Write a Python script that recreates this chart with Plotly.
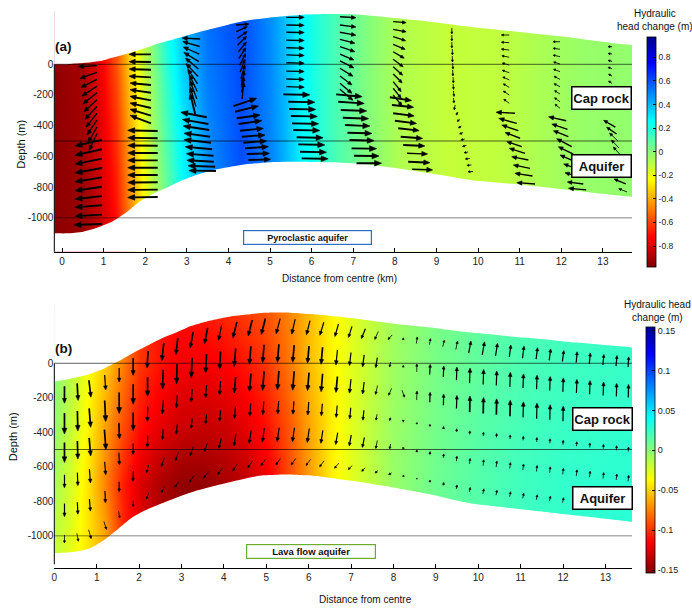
import math
import plotly.graph_objects as go

W, H = 692, 608
FONT = "Liberation Sans, Arial, sans-serif"

# ======================= DATA: panel (a) pyroclastic aquifer =======================
A_SURF_X = [-0.185, 0.12, 0.51, 0.91, 1.23, 1.55, 1.87, 2.2, 2.55, 2.9, 3.3, 3.7, 4.3, 5.0,
            5.7, 6.44, 7.24, 8.05, 8.85, 9.8, 11.0, 12.3, 13.70]
A_TOP = [0, 1, 8, 21, 45, 68, 95, 125, 153, 180, 210, 238, 278, 305, 322, 328, 322, 300, 278,
         245, 210, 172, 126]
A_BOT = [-1102, -1102, -1091, -1059, -1022, -965, -895, -842, -800, -755, -715, -686, -656,
         -638, -635, -639, -650, -678, -711, -754, -784, -823, -863]

# hydraulic head change (m) sampled along distance, at the base and top of the section
A_HX = [-0.2, 0.5, 0.9, 1.3, 1.65, 1.9, 2.15, 2.5, 2.9, 3.5, 4.3, 5.0, 5.3, 5.7, 6.2, 6.7, 7.4,
        8.1, 9.3, 10.5, 11.5, 12.5, 13.75]
A_HZ = [-1250, 400]
A_HEAD_BASE = [-0.95, -0.93, -0.86, -0.73, -0.5, -0.32, -0.17, 0.0, 0.2, 0.43, 0.6, 0.52, 0.44,
               0.3, 0.19, 0.1, 0.0, -0.08, -0.12, -0.11, -0.07, -0.03, -0.02]
A_HEAD_TOP = [-0.95, -0.88, -0.74, -0.52, -0.25, -0.1, 0.03, 0.24, 0.4, 0.55, 0.62, 0.48, 0.4,
              0.28, 0.18, 0.1, 0.0, -0.08, -0.12, -0.11, -0.07, -0.03, -0.02]

# flow arrows (tail position in km / m, vector components in display units)
A_QX = [
    [0.84] * 11, [0.96] * 10, [2.14] * 10, [2.3] * 10,
    [3.32, 3.31, 3.30, 3.29, 3.28, 3.27, 3.26, 3.25, 3.24, 3.22, 3.2],
    [3.48, 3.52, 3.54, 3.56, 3.58, 3.61, 3.64, 3.65, 3.68, 3.7],
    [4.18, 4.19, 4.21, 4.22, 4.24, 4.25, 4.27, 4.28, 4.3, 4.31, 4.32, 4.33],
    [4.12, 4.16, 4.2, 4.24, 4.28, 4.32, 4.36, 4.4, 4.44, 4.48],
    [5.39] * 10,
    [5.32, 5.44, 5.46, 5.5, 5.53, 5.56, 5.64, 5.68, 5.72, 5.76],
    [6.68] * 11,
    [6.59, 6.64, 6.7, 6.75, 6.8, 6.86, 6.91, 6.96, 7.02, 7.08],
    [7.96] * 11,
    [7.88, 7.93, 7.96, 8.0, 8.08, 8.14, 8.2, 8.29, 8.32, 8.41],
    [9.37, 9.37, 9.37, 9.38, 9.38, 9.39, 9.39, 9.4, 9.4, 9.41, 9.41, 9.45],
    [9.52, 9.56, 9.6, 9.64, 9.68, 9.72, 9.76, 9.8, 9.84, 9.88],
    [10.75] * 10,
    [10.89, 10.93, 10.97, 11.01, 11.05, 11.13, 11.21, 11.25, 11.31, 11.37],
    [11.97] * 10,
    [12.12, 12.15, 12.17, 12.25, 12.29, 12.33, 12.41, 12.45, 12.53, 12.6],
    [13.22] * 8,
    [13.3, 13.33, 13.36, 13.39, 13.42, 13.45, 13.48, 13.51, 13.55, 13.58],
]
A_QZ = [
    [-9, -53, -98, -142, -186, -231, -275, -319, -364, -408, -452],
    [-493, -554, -615, -676, -737, -798, -859, -919, -980, -1041],
    [65, 15, -35, -85, -135, -185, -235, -285, -335, -385],
    [-435, -482, -531, -578, -626, -674, -722, -769, -817, -865],
    [165, 116, 67, 18, -31, -80, -128, -177, -226, -275, -324],
    [-345, -389, -428, -472, -511, -554, -596, -635, -668, -696],
    [256, 213, 168, 124, 81, 37, -7, -51, -95, -138, -183, -226],
    [-272, -309, -352, -389, -433, -472, -511, -548, -585, -624],
    [306, 256, 209, 158, 108, 61, 10, -44, -96, -146],
    [-196, -244, -291, -337, -385, -428, -476, -522, -570, -613],
    [310, 256, 209, 163, 115, 67, 22, -26, -76, -124, -163],
    [-196, -244, -298, -348, -396, -446, -493, -548, -596, -645],
    [278, 228, 180, 130, 82, 33, -16, -63, -113, -156, -200],
    [-215, -265, -319, -368, -417, -472, -526, -580, -635, -684],
    [237, 191, 145, 100, 54, 8, -37, -83, -128, -174, -220, -265],
    [-311, -357, -402, -445, -487, -529, -572, -614, -656, -699],
    [191, 141, 93, 46, -5, -55, -102, -150, -200, -254],
    [-319, -385, -433, -482, -537, -580, -624, -678, -728, -780],
    [147, 98, 50, 2, -48, -98, -146, -194, -244, -287],
    [-368, -424, -472, -537, -585, -635, -684, -737, -780, -819],
    [115, 67, 19, -29, -77, -125, -174, -220],
    [-409, -454, -500, -546, -591, -637, -682, -728, -780, -832],
]
A_QU = [
    [-19, -17, -16, -15, -14, -13, -12, -11, -10, -9, -8],
    [-27, -27, -27, -27, -27, -27, -27, -27, -27, -28],
    [-22, -22, -22, -22, -21, -21, -21, -21, -21, -21],
    [-30] * 10,
    [-18, -17, -16, -15, -13, -12, -10, -8, -7, -6, -5],
    [-26, -26, -26, -26, -27, -27, -27, -27, -27, -27],
    [13, 11, 10, 9, 8, 7, 6, 5, 4, 3, 2, 1.5],
    [23.3, 23.3, 23.3, 23.3, 23.3, 23.3, 23.3, 23.3, 22.7, 22.3],
    [18] * 10,
    [26.5] * 10,
    [16, 16, 16, 15, 15, 14, 14, 13, 12, 12, 13],
    [26, 26, 26, 25.7, 25, 24.5, 24.7, 25, 25, 25],
    [13, 13, 12.5, 12, 11, 10, 9.5, 9, 8, 8, 9],
    [21.7, 21.7, 21, 21.7, 21, 22, 21.7, 20.7, 21.7, 20.7],
    [0, 0, 0, 0.2, 0.2, 0.3, 0.3, 0.3, 0.5, 0.5, 0.5, -1],
    [-2, -2.5, -3, -3.5, -4, -4, -4, -4.5, -4.5, -5],
    [-8, -8, -8, -7.5, -7, -7, -6.5, -6, -6, -5.5],
    [-19, -18, -16.7, -15, -15, -15.7, -16.7, -16.7, -17.7, -18.3],
    [-7, -7, -7, -6.5, -6.5, -6, -6, -5.5, -5.5, -5],
    [-17.7, -15.7, -15, -15, -15, -15, -14.7, -15, -16, -17.7],
    [-4, -4, -4, -4, -3.5, -3.5, -3, -3],
    [-11.7, -10, -8.3, -7.7, -7, -7, -7.7, -9, -11.7, -8.3],
]
A_QV = [
    [-1, -6, -8, -10, -11, -12, -13, -14, -15, -16, -17],
    [-6, -6, -5.5, -5, -4.5, -4, -3, -2, -1.5, -1],
    [0, 0.3, 0.6, 1.2, 2, 3, 4, 5, 6.5, 8],
    [0.7, 0.5, 0.3, 0, 0, 0, 0, -0.3, -0.3, -0.5],
    [1, 5, 7, 9, 11, 13, 15, 17, 19, 20, 21],
    [5, 4.5, 4, 3.5, 3, 2.5, 2, 1.5, 1, 0.5],
    [1, 5, 7, 9, 10, 11, 12, 13, 14, 15, 16, 17],
    [7.7, 5.7, 3.3, 3.3, 2.3, 1.7, 1.7, 1.7, 0.7, 0.7],
    [0, -0.3, -0.3, -0.5, -0.5, -0.5, -0.5, -0.5, -0.5, -0.5],
    [-0.5] * 10,
    [-1, -2, -3, -4, -5, -6, -7, -8, -9, -10, -11],
    [-2.3, -1.7, -1, -1, -1, -0.7, -0.7, -0.3, -0.3, 0],
    [-1, -2.5, -4, -5, -6.5, -7.5, -8.5, -9, -10, -10, -11],
    [-3.3, -2.3, -2.7, -2.7, -2.3, -1.7, -1, -0.7, -1, -0.7],
    [-6, -6, -6, -6, -6, -6, -6, -6, -5.5, -5.5, -5, -5],
    [-3, -2.5, -2, -1.5, -1, -1, -0.7, -0.5, -0.5, -0.3],
    [0, 0.5, 1, 1.5, 2, 2.5, 3, 3.5, 4, 4],
    [1, 5, 5.7, 5.7, 5, 5, 3.3, 3.3, 2.7, 1.3],
    [0, 1, 1.5, 2, 2.5, 3, 3, 3.5, 4, 4],
    [4, 5.3, 6, 8, 7.3, 6.7, 5.3, 4.7, 2, 1.7],
    [0, 0.5, 1, 1.5, 2, 2.5, 3, 3.5],
    [6.7, 6.7, 8, 8, 8, 8, 7, 6, 5, 3.3],
]

# ======================= DATA: panel (b) lava flow aquifer =======================
B_SURF_X = [0.0, 0.24, 0.55, 0.84, 1.20, 1.53, 1.86, 2.20, 2.56, 2.89, 3.24, 3.58, 3.91, 4.26,
            4.62, 4.93, 5.28, 5.64, 5.99, 6.31, 6.66, 6.98, 7.29, 7.60, 7.92, 8.23, 8.55, 8.86,
            9.18, 9.49, 9.80, 10.12, 10.43, 10.75, 11.06, 11.38, 11.69, 12.0, 12.32, 12.63,
            12.95, 13.26, 13.54, 13.625]
B_TOP = [-105, -97, -80, -62, -27, 14, 60, 103, 148, 180, 217, 241, 259, 275, 285, 293, 295, 292,
         286, 280, 271, 262, 252, 242, 232, 223, 215, 208, 198, 188, 178, 171, 164, 156, 149, 142,
         135, 127, 120, 113, 106, 100, 94, 92]
B_BOT = [-1100, -1099, -1090, -1072, -1020, -955, -890, -846, -810, -778, -748, -724, -703, -682,
         -662, -650, -646, -646, -650, -658, -669, -680, -692, -705, -717, -730, -745, -760, -778,
         -796, -812, -822, -830, -839, -848, -857, -865, -874, -883, -891, -900, -909, -917, -919]

B_HX = [0, 0.4, 0.8, 1.2, 1.6, 2.0, 2.5, 3.0, 3.5, 4.0, 4.5, 5.0, 5.5, 6.0, 6.5, 7.0, 7.5, 8.0,
        9.0, 10.0, 11.0, 12.0, 13.7]
B_HZ = [-1150, -700, -350, 0, 350]
B_HEAD_M1150 = [-0.02, -0.03, -0.045, -0.06, -0.1, -0.125, -0.14, -0.148, -0.148, -0.142, -0.135,
                -0.12, -0.095, -0.068, -0.042, -0.028, -0.016, -0.005, 0.008, 0.016, 0.022, 0.026,
                0.029]
B_HEAD_M700 = [-0.01, -0.025, -0.045, -0.075, -0.105, -0.125, -0.14, -0.148, -0.148, -0.142,
               -0.135, -0.12, -0.095, -0.068, -0.042, -0.028, -0.016, -0.005, 0.008, 0.016, 0.022,
               0.026, 0.029]
B_HEAD_M350 = [-0.003, -0.02, -0.04, -0.065, -0.09, -0.11, -0.122, -0.13, -0.132, -0.13, -0.122,
               -0.11, -0.09, -0.065, -0.042, -0.028, -0.016, -0.006, 0.006, 0.014, 0.02, 0.024,
               0.027]
B_HEAD_0 = [0.0, -0.015, -0.035, -0.052, -0.075, -0.098, -0.11, -0.118, -0.118, -0.115, -0.108,
            -0.098, -0.08, -0.058, -0.04, -0.028, -0.017, -0.007, 0.005, 0.012, 0.018, 0.022, 0.025]
B_HEAD_P350 = [0.0, -0.015, -0.035, -0.052, -0.075, -0.098, -0.108, -0.11, -0.105, -0.1, -0.095,
               -0.088, -0.075, -0.058, -0.04, -0.028, -0.018, -0.008, 0.004, 0.012, 0.018, 0.022,
               0.025]

# arrow rows as fractions of layer thickness (from the top), one vector per column
B_ROW_F = [0.085, 0.252, 0.419, 0.586, 0.753, 0.92]
B_U1 = [0, 1, 2, 1, 0, 0, -1, -2, -2, -3, -3, -3, -4, -4, -4, -4, -3.5, -3.5, -4, -3.5, -3.5, -4,
        -3.5, -4, 0, 1, 1, 1.5, 1.7, 2.3, 2.3, 2, 1.5, 1.5, 1.5, 1.5, 1.5, 1, 1, 1, 1, 0.7]
B_V1 = [-17, -17, -17, -15, -14, -17, -17, -18, -17, -16, -16, -15, -16, -16, -16, -15, -15, -14,
        -13, -12.5, -11, -10, -8, -4.5, 2, 6.5, 6, 6.5, 8.5, 12, 13, 12.5, 12, 12, 11.5, 11.5, 11,
        11, 11, 10.5, 10.5, 10]
B_U2 = [0, 0.5, 1.5, 1, 0, 0, 0, -0.5, -0.5, -1, -1, -1, -1.5, -1.5, -1.5, -1.5, -1.5, -1.5, -1.5,
        -1.5, -1.5, -1.5, -1.5, -1, 0, 0, 0.5, 0.5, 0.5, 0.5, 0.5, 0.5, 0.5, 0.5, 0.5, 0.5, 0.5,
        0.5, 0.5, 0.5, 0.3, 0.3]
B_V2 = [-21, -20, -19, -21, -21, -20, -19, -19, -20, -20, -19, -18, -18, -18, -18, -18, -17, -17,
        -17, -15, -13, -12, -10, -5, 2, 8, 10, 11, 13, 15, 15, 14.5, 14.5, 14, 14, 14, 14, 13.5,
        13.5, 13.5, 13, 13]
B_U3 = [0, 0.5, 1.5, 1.5, 0.5, 0, -0.5, -1, -1, -1, -1, -1, -1.5, -1.5, -1.5, -1.5, -1.5, -1.5,
        -1.5, -1.5, -1.5, -1.5, -2, -3, 2.5, 0.3, 0.3, 0.3, 0.5, 0.3, 0.3, 0.3, 0.3, 0.3, 0.3, 0.3,
        0.3, 0.3, 0.3, 0.3, 0.3, 0.3]
B_V3 = [-20, -18, -18, -20, -16, -18, -15, -14, -13, -13, -13, -14, -16, -18, -19, -19, -19, -18,
        -18, -16, -14, -12, -9, -7, -7, 9, 10, 11, 13, 16, 16, 16, 16, 15.5, 15.5, 15, 15, 15,
        14.5, 14.5, 14, 14]
B_U4 = [0, 0.5, 1, 1, 0.5, 0, -0.5, -0.5, -1, -1, -1, -1, -1, -1, -1, -1, -1, -1, -1, -1, -1, -1,
        -1, -1, 0, 0, 0, 0, 0.2, 0.2, 0.2, 0.2, 0.2, 0.2, 0.2, 0.2, 0.2, 0.2, 0.2, 0.2, 0.2, 0.2]
B_V4 = [-13, -13, -14, -13, -12, -11, -12, -10, -10, -10, -10, -11, -12, -13, -13, -13, -13, -13,
        -12, -12, -11, -10, -6, -3, -2, 1.5, 2, 2.5, 3, 3.5, 4, 4, 4, 4, 4.5, 4.5, 4.5, 4.5, 4.5,
        4.5, 4.5, 4.5]
B_U5 = [0, 0.5, 1, 0.5, 0, -0.5, -2, -3, -3, -3, -3, -2.5, -2, -2, -2, -2, -2, -2, -2, -2, -2, -2,
        -1.5, -1, -0.5, 0, 0.3, 0.5, 0.5, 0.7, 0.7, 0.7, 0.7, 0.7, 0.7, 0.7, 0.7, 0.7, 0.7, 0.7,
        0.7, 0.7]
B_V5 = [-13, -12, -12, -12, -10, -10, -8, -9, -9, -9, -9, -10, -12, -13, -14, -14, -14, -14, -13,
        -12, -11, -10, -8, -5, -2, 2, 3, 4, 5, 5.5, 6, 6, 6, 6, 6, 6, 6, 6, 6, 6, 6, 6]
B_U6 = [0, 1.5, 2.5, 2.5, 1, 0, -2, -3, -4, -4.5, -5, -5, -4.5, -4.5, -4.5, -4.5, -4.5, -4.5,
        -4.5, -4.3, -4, -3.5, -3, -3, -1.5, 0, 0.3, 0.5, 0.7, 0.8, 1, 1, 1, 1, 1, 1, 1, 1, 1, 1, 1,
        1]
B_V6 = [-8, -8, -9, -8, -7, -6, -6, -6, -6, -6.5, -6.5, -6.5, -6.7, -6.7, -6.7, -6.5, -6.5, -6,
        -6, -5, -4, -3.5, -2.5, -2, -0.7, 1, 2, 3, 4, 4.5, 5, 5, 5, 5, 5, 5, 5, 5, 5, 5, 5, 5]

LAYER_LINES_Z = [0, -500, -1000]
DEPTH_TICKS = [-1000, -800, -600, -400, -200, 0]
DIST_TICKS = list(range(0, 14))
A_CB_TICKS = [-0.8, -0.6, -0.4, -0.2, 0, 0.2, 0.4, 0.6, 0.8]
B_CB_TICKS = [-0.15, -0.1, -0.05, 0, 0.05, 0.1, 0.15]

# ======================= geometry / style =======================
PLOT_L, PLOT_R = 54.3, 632.0
A_PT, A_PB = 11.0, 251.7
B_PT, B_PB = 305.0, 568.3
A_XR, A_YR = [-0.185, 13.70], [-1221.6, 347.5]
B_XR, B_YR = [0.0, 13.625], [-1189.0, 338.0]
A_SX = (PLOT_R - PLOT_L) / (A_XR[1] - A_XR[0])
A_SZ = (A_PB - A_PT) / (A_YR[1] - A_YR[0])
B_SX = (PLOT_R - PLOT_L) / (B_XR[1] - B_XR[0])
B_SZ = (B_PB - B_PT) / (B_YR[1] - B_YR[0])

JET_R = [[0.0, 'rgb(128,0,0)'], [0.127, 'rgb(255,0,0)'], [0.381, 'rgb(255,255,0)'],
         [0.635, 'rgb(0,255,255)'], [0.889, 'rgb(0,0,255)'], [1.0, 'rgb(0,0,143)']]


def px(x):
    return x / W


def py(y):
    return 1 - y / H


def fmt(v):
    return ('%g' % v)


def arrow_traces(xs, zs, us, vs, sx, sz, centered, xa, ya, wcls):
    groups = {w: ([], []) for _, w in wcls}
    hx_l, hz_l = [], []
    for x, z, u, v in zip(xs, zs, us, vs):
        L = math.hypot(u, v)
        if L < 0.3:
            continue
        if centered:
            tx, tz = x - 0.5 * u / sx, z - 0.5 * v / sz
        else:
            tx, tz = x, z
        hx, hz = tx + u / sx, tz + v / sz
        dx, dy = u / L, v / L          # unit direction in screen space (y up)
        hl = min(max(0.28 * L, 2.0), 7.0)
        hl = min(hl, 0.9 * L)
        hw = 0.36 * hl + 0.3
        w = next(wd for m, wd in wcls if L >= m)
        # shaft ends a little inside the head
        ex = hx - 0.75 * hl * dx / sx
        ez = hz - 0.75 * hl * dy / sz
        gx, gy = groups[w]
        gx += [tx, ex, None]
        gy += [tz, ez, None]
        bx, by = -hl * dx, -hl * dy     # base centre offset (px)
        px1, py1 = bx - hw * dy, by + hw * dx
        px2, py2 = bx + hw * dy, by - hw * dx
        hx_l += [hx, hx + px1 / sx, hx + px2 / sx, hx, None]
        hz_l += [hz, hz + py1 / sz, hz + py2 / sz, hz, None]
    out = []
    for w, (gx, gy) in groups.items():
        if gx:
            out.append(go.Scatter(x=gx, y=gy, mode='lines', line=dict(color='black', width=w),
                                  xaxis=xa, yaxis=ya, hoverinfo='skip', showlegend=False))
    out.append(go.Scatter(x=hx_l, y=hz_l, mode='lines', fill='toself', fillcolor='black',
                          line=dict(color='black', width=0.6), xaxis=xa, yaxis=ya,
                          hoverinfo='skip', showlegend=False))
    return out


def mask_traces(sx_, top, bot, xa, ya):
    x0, x1 = sx_[0] - 1.0, sx_[-1] + 1.0
    up = go.Scatter(x=[x0] + list(sx_) + [x1, x1, x0], y=[top[0]] + list(top) + [top[-1], 5000, 5000],
                    fill='toself', fillcolor='white', mode='lines',
                    line=dict(width=0, shape='spline', smoothing=0.7),
                    xaxis=xa, yaxis=ya, hoverinfo='skip', showlegend=False)
    dn = go.Scatter(x=[x0] + list(sx_) + [x1, x1, x0], y=[bot[0]] + list(bot) + [bot[-1], -5000, -5000],
                    fill='toself', fillcolor='white', mode='lines',
                    line=dict(width=0, shape='spline', smoothing=0.7),
                    xaxis=xa, yaxis=ya, hoverinfo='skip', showlegend=False)
    return [up, dn]


def layer_lines(xr, xa, ya):
    out = []
    styles = {0: ('rgba(0,0,0,0.62)', 1.0), -500: ('rgba(0,0,0,0.62)', 1.0),
              -1000: ('rgba(0,0,0,0.32)', 1.6)}
    for zl in LAYER_LINES_Z:
        c, w = styles[zl]
        out.append(go.Scatter(x=[xr[0], xr[1]], y=[zl, zl], mode='lines', line=dict(color=c, width=w),
                              xaxis=xa, yaxis=ya, hoverinfo='skip', showlegend=False))
    return out


fig = go.Figure()

# ---------------- panel (a) ----------------
fig.add_trace(go.Heatmap(
    x=A_HX, y=A_HZ, z=[A_HEAD_BASE, A_HEAD_TOP], zsmooth='best', colorscale=JET_R,
    zmin=-0.975, zmax=0.975, xaxis='x', yaxis='y', hoverinfo='skip',
    colorbar=dict(x=px(646.7), xanchor='left', xpad=0, y=py(151.7), yanchor='middle', ypad=0,
                  len=230 / H, lenmode='fraction', thickness=9.3, thicknessmode='pixels',
                  outlinewidth=0.8, outlinecolor='black', tickvals=A_CB_TICKS,
                  ticktext=[fmt(t) for t in A_CB_TICKS], ticks='inside', ticklen=3,
                  tickcolor='black', tickfont=dict(family=FONT, size=8.5, color='#222'))))
for t in mask_traces(A_SURF_X, A_TOP, A_BOT, 'x', 'y'):
    fig.add_trace(t)
for t in layer_lines(A_XR, 'x', 'y'):
    fig.add_trace(t)
axs, azs, aus, avs = [], [], [], []
for gx, gz, gu, gv in zip(A_QX, A_QZ, A_QU, A_QV):
    if not (len(gx) == len(gz) == len(gu) == len(gv)):
        raise ValueError('panel a arrow group length mismatch')
    axs += gx; azs += gz; aus += gu; avs += gv
for t in arrow_traces(axs, azs, aus, avs, A_SX, A_SZ, False, 'x', 'y',
                      [(21, 1.9), (12, 1.35), (0, 0.85)]):
    fig.add_trace(t)

# ---------------- panel (b) ----------------
fig.add_trace(go.Heatmap(
    x=B_HX, y=B_HZ, z=[B_HEAD_M1150, B_HEAD_M700, B_HEAD_M350, B_HEAD_0, B_HEAD_P350],
    zsmooth='best', colorscale=JET_R, zmin=-0.154, zmax=0.154, xaxis='x2', yaxis='y2',
    hoverinfo='skip',
    colorbar=dict(x=px(645.7), xanchor='left', xpad=0, y=py(450.3), yanchor='middle', ypad=0,
                  len=246 / H, lenmode='fraction', thickness=9.3, thicknessmode='pixels',
                  outlinewidth=0.8, outlinecolor='black', tickvals=B_CB_TICKS,
                  ticktext=[fmt(t) for t in B_CB_TICKS], ticks='inside', ticklen=3,
                  tickcolor='black', tickfont=dict(family=FONT, size=9, color='#222'))))
for t in mask_traces(B_SURF_X, B_TOP, B_BOT, 'x2', 'y2'):
    fig.add_trace(t)
for t in layer_lines(B_XR, 'x2', 'y2'):
    fig.add_trace(t)
B_U = [B_U1, B_U2, B_U3, B_U4, B_U5, B_U6]
B_V = [B_V1, B_V2, B_V3, B_V4, B_V5, B_V6]
bxs, bzs, bus, bvs = [], [], [], []
ncol = len(B_SURF_X) - 2
for f, ur, vr in zip(B_ROW_F, B_U, B_V):
    if len(ur) != ncol or len(vr) != ncol:
        raise ValueError('panel b arrow row length mismatch')
    for k in range(ncol):
        xk, tk, bk = B_SURF_X[k + 1], B_TOP[k + 1], B_BOT[k + 1]
        bxs.append(xk)
        bzs.append(tk + f * (bk - tk))
        bus.append(ur[k])
        bvs.append(vr[k])
for t in arrow_traces(bxs, bzs, bus, bvs, B_SX, B_SZ, True, 'x2', 'y2',
                      [(16, 1.7), (10, 1.2), (0, 0.8)]):
    fig.add_trace(t)

# ---------------- axes ----------------
tickfont = dict(family=FONT, size=10, color='#222')
xcommon = dict(showgrid=False, zeroline=False, showline=True, linecolor='black', linewidth=1,
               ticks='inside', ticklen=4, tickcolor='black', tickwidth=1, tickvals=DIST_TICKS,
               ticktext=[str(t) for t in DIST_TICKS], tickfont=tickfont,
               domain=[px(PLOT_L), px(PLOT_R)])
ycommon = dict(showgrid=False, zeroline=False, showline=False, ticks='', tickvals=DEPTH_TICKS,
               ticktext=[fmt(t) for t in DEPTH_TICKS], tickfont=tickfont)
fig.update_layout(
    xaxis=dict(**xcommon, range=A_XR, anchor='y'),
    yaxis=dict(**ycommon, range=A_YR, anchor='x', domain=[py(A_PB), py(A_PT)]),
    xaxis2=dict(**xcommon, range=B_XR, anchor='y2'),
    yaxis2=dict(**ycommon, range=B_YR, anchor='x2', domain=[py(B_PB), py(B_PT)]),
)

a_zero_py = A_PT + (A_YR[1] - 0) * A_SZ
b_zero_py = B_PT + (B_YR[1] - 0) * B_SZ
shapes = [
    dict(type='line', xref='paper', yref='paper', x0=px(PLOT_L), x1=px(PLOT_L),
         y0=py(A_PB), y1=py(a_zero_py), line=dict(color='black', width=1)),
    dict(type='line', xref='paper', yref='paper', x0=px(PLOT_L), x1=px(PLOT_L),
         y0=py(B_PB - 4), y1=py(b_zero_py), line=dict(color='black', width=1)),
]


def ann(text, x, y, size=10, bold=False, **kw):
    t = '<b>%s</b>' % text if bold else text
    d = dict(text=t, x=px(x), y=py(y), xref='paper', yref='paper', showarrow=False,
             xanchor='center', yanchor='middle', font=dict(family=FONT, size=size, color='#111'))
    d.update(kw)
    return d


box = dict(bgcolor='white', bordercolor='black', borderwidth=1.5, borderpad=1, width=56,
           height=19, align='center', valign='middle')
annotations = [
    ann('(a)', 63.3, 46, 13.5, True),
    ann('(b)', 63.3, 348.3, 13.5, True),
    ann('Depth (m)', 20.7, 144, 11, textangle=-90),
    ann('Depth (m)', 12.5, 436.7, 11, textangle=-90),
    ann('Distance from centre (km)', 339.2, 278.3, 10),
    ann('Distance from centre', 365, 599.3, 10),
    ann('Hydraulic<br>head change (m)', 655, 20.5, 10),
    ann('Hydraulic head<br>change (m)', 657, 310.8, 10),
    ann('Cap rock', 601.3, 98.5, 13, True, **box),
    ann('Aquifer', 601.3, 166.3, 13, True, **box),
    ann('Cap rock', 602, 418.8, 13, True, **box),
    ann('Aquifer', 602, 497.5, 13, True, **box),
    ann('Pyroclastic aquifer', 307.3, 237.2, 9, True, bgcolor='white',
        bordercolor='rgb(45,110,200)', borderwidth=1.2, borderpad=1, width=125, height=11),
    ann('Lava flow aquifer', 311.3, 551.8, 9.5, True, bgcolor='white',
        bordercolor='rgb(110,170,45)', borderwidth=1.2, borderpad=1, width=126, height=10.5),
]

fig.update_layout(
    width=W, height=H, margin=dict(l=0, r=0, t=0, b=0), template='none',
    paper_bgcolor='white', plot_bgcolor='white', showlegend=False,
    shapes=shapes, annotations=annotations,
    font=dict(family=FONT, size=10, color='#222'),
)

fig.write_html("out.html")
